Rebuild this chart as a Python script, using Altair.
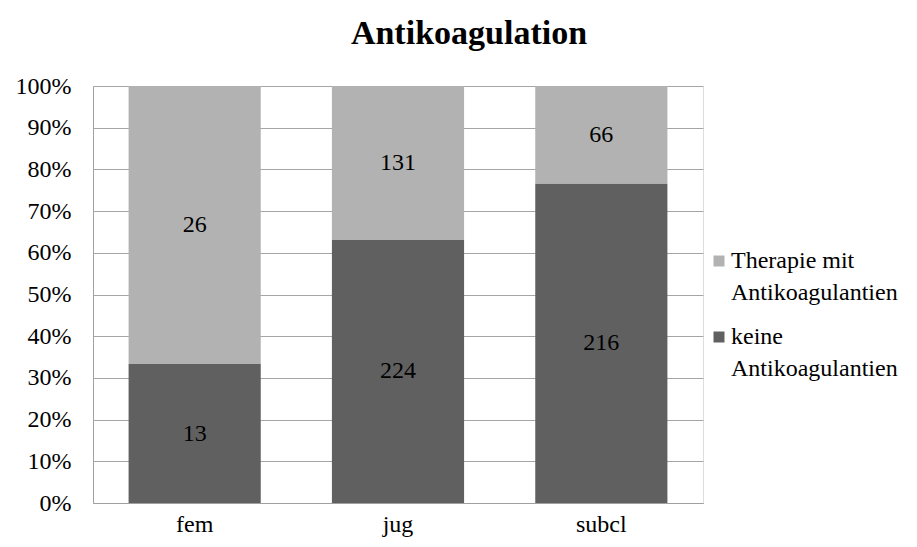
import altair as alt
import pandas as pd

categories = ["fem", "jug", "subcl"]
keine = [13, 224, 216]
therapie = [26, 131, 66]
series_names = ["keine Antikoagulantien", "Therapie mit Antikoagulantien"]
colors = ["#606060", "#b2b2b2"]
y_ticks = [0, 0.1, 0.2, 0.3, 0.4, 0.5, 0.6, 0.7, 0.8, 0.9, 1.0]

rows = []
for i, c in enumerate(categories):
    rows.append({"cat": c, "series": series_names[0], "value": keine[i], "ord": 0})
    rows.append({"cat": c, "series": series_names[1], "value": therapie[i], "ord": 1})
df = pd.DataFrame(rows)

FONT = "Liberation Serif"

base = alt.Chart(df).transform_stack(
    stack="value",
    as_=["y0", "y1"],
    groupby=["cat"],
    sort=[alt.SortField("ord", order="ascending")],
    offset="normalize",
).transform_calculate(mid="(datum.y0 + datum.y1) / 2")

xenc = alt.X(
    "cat:N",
    sort=categories,
    scale=alt.Scale(paddingInner=0.35, paddingOuter=0.175),
    axis=alt.Axis(
        title=None, labelAngle=0, ticks=False, labelPadding=9,
        domainColor="#a0a0a0", labelFont=FONT, labelFontSize=24, labelColor="black",
    ),
)

bars = base.mark_bar().encode(
    x=xenc,
    y=alt.Y(
        "y0:Q",
        scale=alt.Scale(domain=[0, 1], nice=False),
        axis=alt.Axis(
            title=None, values=y_ticks, format=".0%", ticks=False, labelPadding=22,
            grid=True, gridColor="#a6a6a6", domainColor="#a0a0a0",
            labelFont=FONT, labelFontSize=24, labelColor="black",
        ),
    ),
    y2="y1:Q",
    color=alt.Color(
        "series:N",
        scale=alt.Scale(domain=[series_names[1], series_names[0]], range=[colors[1], colors[0]]),
        legend=alt.Legend(
            title=None, orient="none", legendX=614, legendY=163,
            symbolType="square", symbolSize=121, symbolStrokeWidth=0,
            labelFont=FONT, labelFontSize=24, labelColor="black", labelLimit=400,
            labelOffset=0, rowPadding=20, labelBaseline="middle",
            labelExpr="[slice(datum.label, 0, lastindexof(datum.label, ' ')), slice(datum.label, lastindexof(datum.label, ' ') + 1)]",
        ),
    ),
)

text = base.mark_text(font=FONT, fontSize=24, color="black").encode(
    x=alt.X("cat:N", sort=categories),
    y=alt.Y("mid:Q"),
    text="value:Q",
)

chart = (bars + text).properties(
    width=610,
    height=417,
    autosize="none",
    padding={"left": 85, "top": 78, "right": 206, "bottom": 36},
    title=alt.TitleParams(
        "Antikoagulation", font=FONT, fontSize=34, fontWeight="bold", color="black",
        anchor="middle", dx=71, offset=23,
    ),
).configure_view(stroke=None).configure(style={"guide-label": {"lineHeight": 32}})

chart.save("out.html", embed_options={"renderer": "svg", "actions": False})
